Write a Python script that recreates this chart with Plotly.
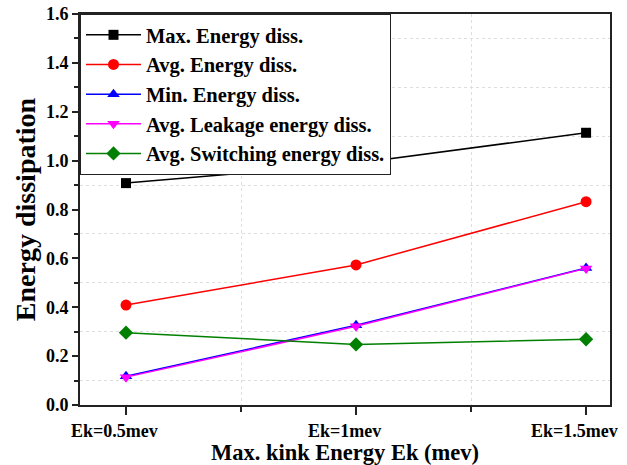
import plotly.graph_objects as go

x_vals = [0.5, 1.0, 1.5]
x_labels = ["Ek=0.5mev", "Ek=1mev", "Ek=1.5mev"]
max_energy = [0.908, 0.989, 1.114]
avg_energy = [0.409, 0.573, 0.832]
min_energy = [0.118, 0.326, 0.561]
avg_leakage = [0.114, 0.322, 0.559]
avg_switching = [0.296, 0.248, 0.269]

series = [
    ("Max. Energy diss.", max_energy, "black", "square", 10),
    ("Avg. Energy diss.", avg_energy, "red", "circle", 11),
    ("Min. Energy diss.", min_energy, "blue", "triangle-up", 11),
    ("Avg. Leakage energy diss.", avg_leakage, "magenta", "triangle-down", 11),
    ("Avg. Switching energy diss.", avg_switching, "green", "diamond", 11),
]

fig = go.Figure()
for name, ys, color, sym, sz in series:
    fig.add_trace(go.Scatter(
        x=x_vals, y=ys, name=name, mode="lines+markers",
        line=dict(color=color, width=1.5),
        marker=dict(symbol=sym, size=sz, color=color),
    ))

font_family = "Liberation Serif"

# category labels under the x axis (Origin places them slightly left of the tick)
for xv, lab in zip(x_vals, x_labels):
    fig.add_annotation(
        x=xv, y=0, xref="x", yref="paper", text=lab, showarrow=False,
        xanchor="center", yanchor="top", xshift=-12, yshift=-14,
        font=dict(family=font_family, size=18, color="black", weight="bold"),
    )

fig.update_layout(
    width=627, height=465,
    margin=dict(l=80, r=17, t=14, b=60),
    paper_bgcolor="white", plot_bgcolor="white",
    font=dict(family=font_family, color="black"),
    showlegend=True,
    legend=dict(
        x=0, y=1, xanchor="left", yanchor="top",
        bordercolor="#222", borderwidth=1, bgcolor="white",
        font=dict(family=font_family, size=20.5, color="black", weight="bold"),
        tracegroupgap=0, itemwidth=55,
    ),
    xaxis=dict(
        range=[0.4, 1.552], automargin=False,
        tickvals=x_vals, showticklabels=False,
        ticks="outside", ticklen=8, tickwidth=1.5, tickcolor="#222",
        showline=True, linecolor="#222", linewidth=2, mirror=True,
        showgrid=False, zeroline=False,
        title=dict(text="Max. kink Energy Ek (mev)", standoff=30,
                   font=dict(family=font_family, size=22.5, color="black", weight="bold")),
        minor=dict(tickvals=[0.75, 1.25], ticks="outside", ticklen=5,
                   tickcolor="#222", showgrid=True, gridcolor="#dddddd",
                   griddash="dot", gridwidth=1),
    ),
    yaxis=dict(
        range=[0, 1.6], dtick=0.2, tick0=0, automargin=False,
        tickformat=".1f",
        ticks="outside", ticklen=6, tickwidth=1.5, tickcolor="#222",
        showline=True, linecolor="#222", linewidth=2, mirror=True,
        showgrid=False, zeroline=False,
        tickfont=dict(family=font_family, size=18, color="black", weight="bold"),
        title=dict(text="Energy dissipation", standoff=2,
                   font=dict(family=font_family, size=28, color="black", weight="bold")),
        minor=dict(tick0=0.1, dtick=0.2, ticks="outside", ticklen=4,
                   tickcolor="#222", showgrid=True, gridcolor="#dddddd",
                   griddash="dot", gridwidth=1),
    ),
)

fig.write_html(
    "out.html",
    config={"displayModeBar": False},
    post_script="document.body.style.margin='0';document.body.style.overflow='hidden';",
)
